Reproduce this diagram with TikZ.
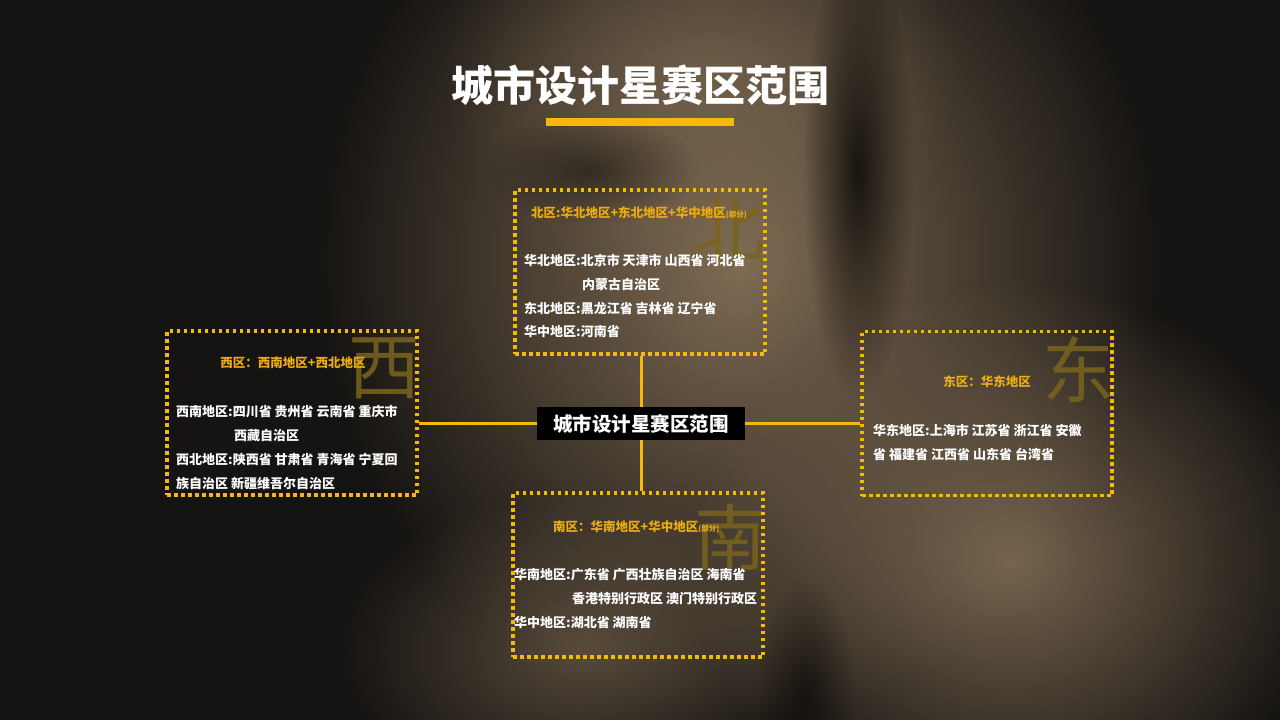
\documentclass[tikz,border=0pt]{standalone}
\usepackage{fontspec}
\setmainfont{Noto Sans CJK SC}
\usetikzlibrary{fadings}
\definecolor{bgdark}{RGB}{22,20,18}
\definecolor{bgbrown}{RGB}{128,108,84}
\definecolor{accent}{RGB}{245,185,10}
\definecolor{gold}{RGB}{236,172,18}
\definecolor{wm}{RGB}{122,100,30}
\tikzfading[name=soft, inner color=transparent!0, outer color=transparent!100]
\tikzset{
  zonebox/.style={draw=accent, line width=3.5pt, dash pattern=on 3.5pt off 3.5pt, minimum width=250pt, minimum height=164pt, inner sep=0pt},
  link/.style={draw=accent, line width=3pt},
  ztitle/.style={text=gold, font=\bfseries\fontsize{12.5}{12.5}\selectfont, inner sep=0pt},
  zline/.style={text=white, font=\bfseries\fontsize{13}{13}\selectfont, anchor=base west, inner sep=0pt},
  wmark/.style={text=wm, opacity=0.85, font=\fontsize{72}{72}\selectfont, inner sep=0pt},
  blob/.style={path fading=soft}
}
\newcommand{\partnote}{{\fontsize{7.5}{7.5}\selectfont(部分)}}
\begin{document}
\begin{tikzpicture}[x=1pt,y=-1pt]
\useasboundingbox (0,0) rectangle (1280,720);
% background
\fill[bgdark] (0,0) rectangle (1280,720);
\fill[bgbrown, blob] (740,260) ellipse (420 and 460);
\fill[bgbrown, blob, opacity=0.6] (700,80) ellipse (260 and 200);
\fill[bgbrown, blob, opacity=0.9] (1010,560) ellipse (320 and 280);
\fill[bgbrown, blob, opacity=0.6] (580,650) ellipse (240 and 160);
\fill[black, blob, opacity=0.75] (858,170) ellipse (55 and 230);
\fill[black, blob, opacity=0.45] (590,170) ellipse (110 and 55);
\fill[black, blob, opacity=0.5] (805,690) ellipse (50 and 110);

% title
\node[text=white, font=\bfseries\fontsize{42}{42}\selectfont, inner sep=0pt] (title) at (640,85) {城市设计星赛区范围};
\fill[accent] (546,118) rectangle (734,126);

% watermarks
\node[wmark] (wmN) at (728,228) {北};
\node[wmark] (wmW) at (384,368) {西};
\node[wmark] (wmE) at (1078,370) {东};
\node[wmark] (wmS) at (730,537) {南};

% boxes
\node[zonebox] (nbox) at (640,272) {};
\node[zonebox] (wbox) at (292,413) {};
\node[zonebox] (ebox) at (987,413.5) {};
\node[zonebox] (sbox) at (638,575) {};

% center
\node[fill=black, text=white, font=\bfseries\fontsize{19.5}{19.5}\selectfont, minimum width=208pt, minimum height=33pt, inner sep=0pt] (center) at (641,423.5) {城市设计星赛区范围};

% connectors
\draw[link] (center.north) -- (center.north |- nbox.south);
\draw[link] (center.south) -- (center.south |- sbox.north);
\draw[link] (center.west) -- (center.west -| wbox.east);
\draw[link] (center.east) -- (center.east -| ebox.west);

% north text
\node[ztitle, anchor=base west] (nt) at (531,217) {北区:华北地区+东北地区+华中地区\partnote};
\node[zline] (n1) at (524,265) {华北地区:北京市 天津市 山西省 河北省};
\node[zline] (n2) at (582,289) {内蒙古自治区};
\node[zline] (n3) at (524,313) {东北地区:黑龙江省 吉林省 辽宁省};
\node[zline] (n4) at (524,336) {华中地区:河南省};

% west text
\node[ztitle] (wt) at (293,363) {西区：西南地区+西北地区};
\node[zline] (w1) at (176,416) {西南地区:四川省 贵州省 云南省 重庆市};
\node[zline] (w2) at (234,440) {西藏自治区};
\node[zline] (w3) at (176,464) {西北地区:陕西省 甘肃省 青海省 宁夏回};
\node[zline] (w4) at (176,488) {族自治区 新疆维吾尔自治区};

% east text
\node[ztitle] (et) at (987,382) {东区：华东地区};
\node[zline] (e1) at (873,435) {华东地区:上海市 江苏省 浙江省 安徽};
\node[zline] (e2) at (873,459) {省 福建省 江西省 山东省 台湾省};

% south text
\node[ztitle, anchor=base west] (st) at (553,531) {南区：华南地区+华中地区\partnote};
\node[zline] (s1) at (514,579) {华南地区:广东省 广西壮族自治区 海南省};
\node[zline] (s2) at (572,603) {香港特别行政区 澳门特别行政区};
\node[zline] (s3) at (514,627) {华中地区:湖北省 湖南省};
\end{tikzpicture}
\end{document}
